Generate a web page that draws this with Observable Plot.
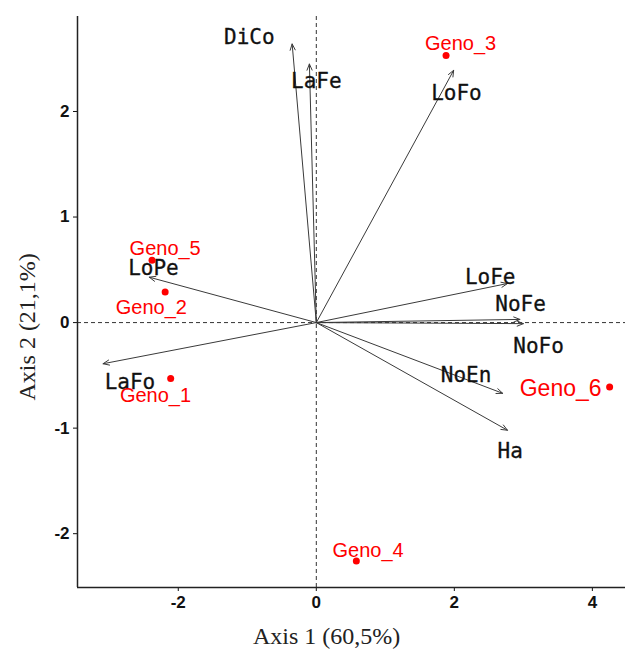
<!DOCTYPE html>
<html>
<head>
<meta charset="utf-8">
<script src="https://cdn.jsdelivr.net/npm/d3@7"></script>
<script src="https://cdn.jsdelivr.net/npm/@observablehq/plot@0.6"></script>
<style>
  html, body { margin: 0; padding: 0; background: #fff; }
  #chart svg { display: block; }
</style>
</head>
<body>
<div id="chart"></div>
<script>
// Variable loadings (arrow tips)
const varNames = ["DiCo", "LaFe", "LoFo", "LoFe", "NoFe", "NoFo", "NoEn", "Ha", "LoPe", "LaFo"];
const varX = [-0.35, -0.10, 1.99, 2.77, 2.95, 3.00, 2.70, 2.77, -2.42, -3.09];
const varY = [2.64, 2.45, 2.39, 0.37, 0.03, -0.01, -0.67, -1.02, 0.43, -0.39];
// Variable label positions (data units)
const varLabelX = [-0.97, 0.00, 2.03, 2.52, 2.96, 3.22, 2.17, 2.81, -2.36, -2.70];
const varLabelY = [2.70, 2.29, 2.17, 0.43, 0.17, -0.22, -0.50, -1.22, 0.51, -0.57];

// Genotype scores
const genoNames = ["Geno_1", "Geno_2", "Geno_3", "Geno_4", "Geno_5", "Geno_6"];
const genoX = [-2.11, -2.19, 1.88, 0.58, -2.38, 4.25];
const genoY = [-0.53, 0.29, 2.53, -2.26, 0.59, -0.61];
const genoLabelX = [-2.33, -2.39, 2.09, 0.75, -2.19, 3.54];
const genoLabelY = [-0.69, 0.14, 2.64, -2.16, 0.70, -0.63];

const xTicks = [-2, 0, 2, 4];
const yTicks = [-2, -1, 0, 1, 2];
const xDomain = [-3.46, 4.48];
const yDomain = [-2.51, 2.90];
const xTitle = "Axis 1 (60,5%)";
const yTitle = "Axis 2 (21,1%)";
const xTitleCenter = 0.15;   // data units along x
const yTitleCenter = -0.04;  // data units along y

const vars = varNames.map((name, i) => ({name, x: varX[i], y: varY[i], lx: varLabelX[i], ly: varLabelY[i]}));
const genos = genoNames.map((name, i) => ({name, x: genoX[i], y: genoY[i], lx: genoLabelX[i], ly: genoLabelY[i]}));

const chart = Plot.plot({
  width: 625,
  height: 650,
  marginLeft: 77,
  marginRight: 0,
  marginTop: 16,
  marginBottom: 63,
  style: {
    fontFamily: "'Liberation Sans Narrow', 'Liberation Sans', Arial, sans-serif",
    fontSize: "17px",
    fontWeight: "bold",
    color: "#111",
    background: "#fff"
  },
  x: {domain: xDomain, ticks: xTicks, tickSize: 4, tickPadding: 4, label: null, tickFormat: d => d},
  y: {domain: yDomain, ticks: yTicks, tickSize: 4, tickPadding: 4, label: null, tickFormat: d => d},
  marks: [
    Plot.ruleX([0], {stroke: "#333", strokeWidth: 1, strokeDasharray: "4,3"}),
    Plot.ruleY([0], {stroke: "#333", strokeWidth: 1, strokeDasharray: "4,3"}),
    Plot.ruleX([xDomain[0]], {stroke: "#222", strokeWidth: 1.5}),
    Plot.ruleY([yDomain[0]], {stroke: "#222", strokeWidth: 1.5}),
    Plot.arrow(vars, {
      x1: () => 0, y1: () => 0, x2: "x", y2: "y",
      stroke: "#3a3a3a", strokeWidth: 1, headLength: 10, headAngle: 45
    }),
    Plot.text(vars, {
      x: "lx", y: "ly", text: "name",
      fontFamily: "'DejaVu Sans Mono', monospace", fontSize: 21, fontWeight: "normal",
      fill: "#111", stroke: "#111", strokeWidth: 0.3
    }),
    Plot.dot(genos, {x: "x", y: "y", r: 3.5, fill: "#ff0000", stroke: "none"}),
    Plot.text(genos, {
      x: "lx", y: "ly", text: "name",
      fontFamily: "'Liberation Sans', Arial, sans-serif",
      fontSize: d => d.name === "Geno_6" ? 23 : 20,
      fontWeight: "normal",
      fill: "#ff0000"
    }),
    Plot.text([xTitle], {
      x: () => xTitleCenter, y: () => yDomain[0], dy: 49,
      fontFamily: "'Liberation Serif', 'Times New Roman', serif",
      fontSize: 24, fontWeight: "normal", fill: "#222"
    }),
    Plot.text([yTitle], {
      x: () => xDomain[0], y: () => yTitleCenter, dx: -50, rotate: -90,
      fontFamily: "'Liberation Serif', 'Times New Roman', serif",
      fontSize: 24, fontWeight: "normal", fill: "#222"
    })
  ]
});
document.getElementById("chart").appendChild(chart);
</script>
</body>
</html>
